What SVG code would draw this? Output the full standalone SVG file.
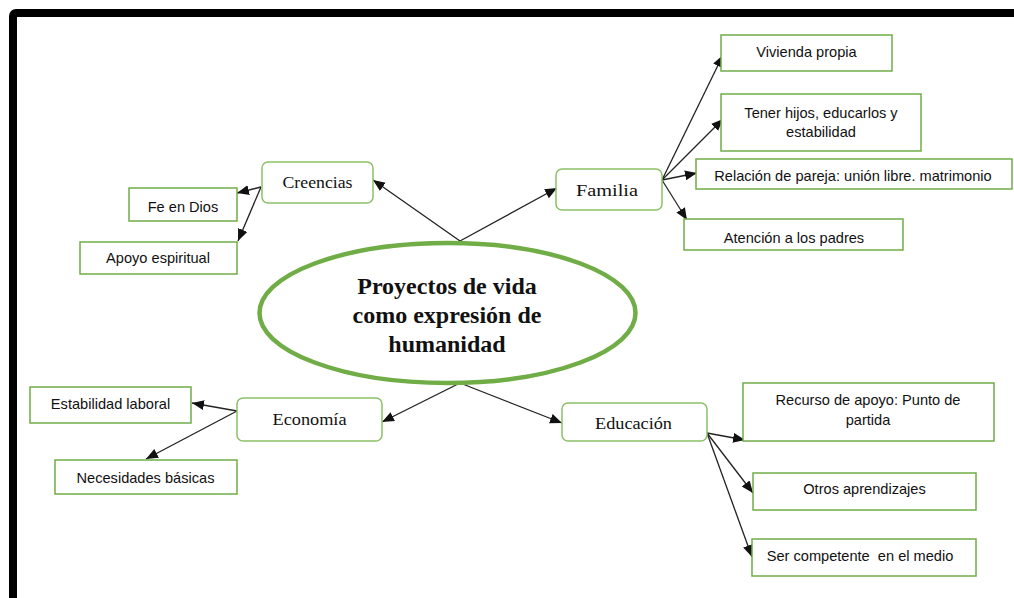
<svg xmlns="http://www.w3.org/2000/svg" width="1014" height="598" viewBox="0 0 1014 598">
<style>
.leaf{fill:#fff;stroke:#70AD47;stroke-width:1.5}
.node{fill:#fff;stroke:#8CC168;stroke-width:1.5}
.lt{font-family:"Liberation Sans",Arial,sans-serif;font-size:14.6px;fill:#111;text-anchor:middle}
.nt{font-family:"Liberation Serif","Times New Roman",serif;font-size:17.5px;fill:#111;text-anchor:middle}
.ct{font-family:"Liberation Serif","Times New Roman",serif;font-size:24px;font-weight:bold;fill:#111;text-anchor:middle}
.c{stroke:#222;stroke-width:1.3;fill:none;marker-end:url(#ah)}
</style>
<defs>
<marker id="ah" markerUnits="userSpaceOnUse" markerWidth="14" markerHeight="12" refX="12" refY="5" orient="auto">
<path d="M0,0 L12,5 L0,10 Z" fill="#111"/>
</marker>
</defs>
<rect x="0" y="0" width="1014" height="598" fill="#fff"/>
<rect x="13" y="13" width="1100" height="700" rx="3" fill="none" stroke="#000" stroke-width="8"/>
<g id="connectors">
<line class="c" x1="460" y1="241" x2="373" y2="180"/>
<line class="c" x1="460" y1="241" x2="557" y2="188"/>
<line class="c" x1="261" y1="187" x2="237" y2="193"/>
<line class="c" x1="261" y1="187" x2="238" y2="241"/>
<line class="c" x1="662" y1="180" x2="723" y2="55"/>
<line class="c" x1="662" y1="180" x2="723" y2="119"/>
<line class="c" x1="662" y1="180" x2="697" y2="173"/>
<line class="c" x1="662" y1="180" x2="687" y2="220"/>
<line class="c" x1="460" y1="383" x2="382" y2="422"/>
<line class="c" x1="460" y1="383" x2="562" y2="423"/>
<line class="c" x1="237" y1="411" x2="192" y2="403"/>
<line class="c" x1="237" y1="411" x2="146" y2="459"/>
<line class="c" x1="707" y1="433" x2="745" y2="440"/>
<line class="c" x1="707" y1="433" x2="753" y2="493"/>
<line class="c" x1="707" y1="433" x2="752" y2="557"/>
</g>
<g id="center">
<ellipse cx="447.5" cy="313" rx="188" ry="70" fill="#fff" stroke="#70AD47" stroke-width="4.5"/>
<text class="ct" x="447" y="294">Proyectos de vida</text>
<text class="ct" x="447" y="323">como expresión de</text>
<text class="ct" x="447" y="352">humanidad</text>
</g>
<g id="creencias">
<rect class="node" x="262" y="162" width="111" height="41" rx="6"/>
<text class="nt" x="317.5" y="188" textLength="70" lengthAdjust="spacingAndGlyphs">Creencias</text>
</g>
<g id="fe-en-dios">
<rect class="leaf" x="129" y="188" width="108" height="33"/>
<text class="lt" x="183" y="212">Fe en Dios</text>
</g>
<g id="apoyo-espiritual">
<rect class="leaf" x="80" y="242" width="157" height="32"/>
<text class="lt" x="158" y="263">Apoyo espiritual</text>
</g>
<g id="familia">
<rect class="node" x="556" y="169" width="106" height="41" rx="6"/>
<text class="nt" x="607" y="196" textLength="62" lengthAdjust="spacingAndGlyphs">Familia</text>
</g>
<g id="vivienda">
<rect class="leaf" x="721" y="35" width="171" height="36"/>
<text class="lt" x="806.5" y="57">Vivienda propia</text>
</g>
<g id="hijos">
<rect class="leaf" x="721" y="94" width="200" height="57"/>
<text class="lt" x="821" y="118">Tener hijos, educarlos y</text>
<text class="lt" x="821" y="137">estabilidad</text>
</g>
<g id="pareja">
<rect class="leaf" x="696" y="159" width="316" height="30"/>
<text class="lt" x="853" y="181">Relación de pareja: unión libre. matrimonio</text>
</g>
<g id="padres">
<rect class="leaf" x="684" y="219" width="219" height="31"/>
<text class="lt" x="794" y="243">Atención a los padres</text>
</g>
<g id="economia">
<rect class="node" x="237" y="398" width="145" height="43" rx="6"/>
<text class="nt" x="309.5" y="425" textLength="74" lengthAdjust="spacingAndGlyphs">Economía</text>
</g>
<g id="estabilidad-laboral">
<rect class="leaf" x="30" y="387" width="161" height="36"/>
<text class="lt" x="110.5" y="409">Estabilidad laboral</text>
</g>
<g id="necesidades">
<rect class="leaf" x="55" y="460" width="182" height="34"/>
<text class="lt" x="145.5" y="483">Necesidades básicas</text>
</g>
<g id="educacion">
<rect class="node" x="562" y="403" width="145" height="38" rx="6"/>
<text class="nt" x="633.5" y="429" textLength="77" lengthAdjust="spacingAndGlyphs">Educación</text>
</g>
<g id="recurso">
<rect class="leaf" x="743" y="383" width="251" height="58"/>
<text class="lt" x="868" y="405">Recurso de apoyo: Punto de</text>
<text class="lt" x="868" y="425">partida</text>
</g>
<g id="otros">
<rect class="leaf" x="753" y="473" width="223" height="37"/>
<text class="lt" x="864.5" y="494">Otros aprendizajes</text>
</g>
<g id="competente">
<rect class="leaf" x="752" y="539" width="224" height="37"/>
<text class="lt" x="860" y="561" xml:space="preserve">Ser competente  en el medio</text>
</g>
</svg>
